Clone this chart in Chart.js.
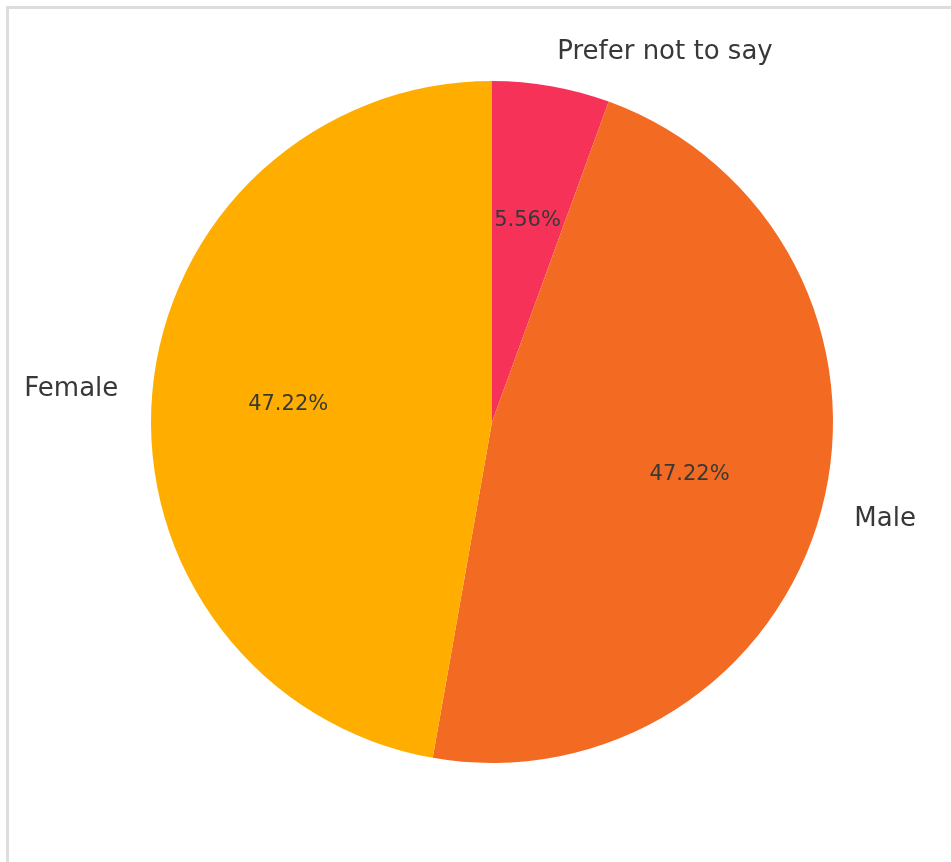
<!DOCTYPE html>
<html>
<head>
<meta charset="utf-8">
<script src="https://cdn.jsdelivr.net/npm/chart.js@4"></script>
<style>
  html, body { margin: 0; padding: 0; background: #fff; }
  #wrap { position: relative; width: 951px; height: 862px; overflow: hidden; }
  #frame {
    position: absolute; left: 6px; top: 6px; width: 960px; height: 870px;
    border-left: 3px solid #dddddd; border-top: 3px solid #dddddd;
  }
  canvas { position: absolute; left: 0; top: 0; }
</style>
</head>
<body>
<div id="wrap">
  <div id="frame"></div>
  <canvas id="genderChart" width="951" height="862"></canvas>
</div>
<script>
// slices listed clockwise from 12 o'clock
const labels = ['Prefer not to say', 'Male', 'Female'];
const shares = [5.56, 47.22, 47.22];
const colors = ['#F63258', '#F36A22', '#FFAE00'];

const textColor = '#383838';

// matplotlib-style labels: name outside the rim, percentage inside
const sliceLabels = {
    id: 'sliceLabels',
    afterDatasetsDraw(chart) {
        const ctx = chart.ctx;
        const arcs = chart.getDatasetMeta(0).data;
        ctx.save();
        ctx.fillStyle = textColor;
        ctx.textBaseline = 'middle';
        arcs.forEach(function(arc, i) {
            const p = arc.getProps(['x', 'y', 'startAngle', 'endAngle', 'outerRadius'], true);
            const mid = (p.startAngle + p.endAngle) / 2;
            const c = Math.cos(mid), s = Math.sin(mid);

            ctx.font = '26px "DejaVu Sans"';
            ctx.textAlign = c >= 0 ? 'left' : 'right';
            ctx.fillText(labels[i], p.x + c * p.outerRadius * 1.1, p.y + s * p.outerRadius * 1.1);

            ctx.font = '21px "DejaVu Sans"';
            ctx.textAlign = 'center';
            ctx.fillText(shares[i].toFixed(2) + '%', p.x + c * p.outerRadius * 0.6, p.y + s * p.outerRadius * 0.6);
        });
        ctx.restore();
    }
};

new Chart(document.getElementById('genderChart'), {
    type: 'pie',
    data: {
        labels: labels,
        datasets: [{
            data: shares,
            backgroundColor: colors,
            borderWidth: 0
        }]
    },
    options: {
        responsive: false,
        animation: false,
        layout: { padding: { left: 151, right: 118, top: 81, bottom: 99 } },
        plugins: {
            legend: { display: false },
            tooltip: { enabled: false }
        }
    },
    plugins: [sliceLabels]
});
</script>
</body>
</html>
